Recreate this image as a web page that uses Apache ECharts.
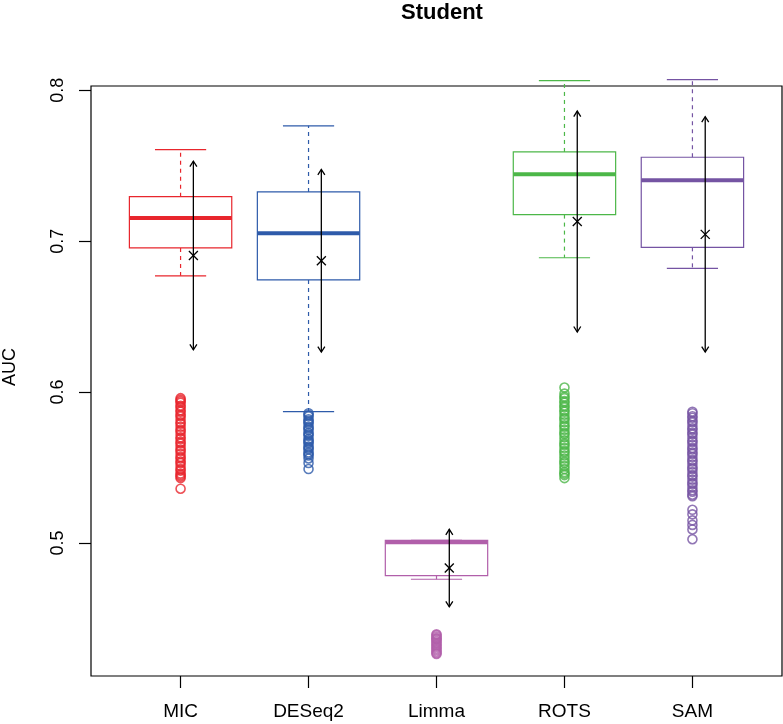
<!DOCTYPE html>
<html>
<head>
<meta charset="utf-8">
<title>Student AUC</title>
<script src="https://cdn.jsdelivr.net/npm/echarts@6/dist/echarts.min.js"></script>
<style>
    html, body { margin: 0; padding: 0; background: #fff; }
    #main { width: 783px; height: 724px; }
</style>
</head>
<body>
<div id="main"></div>
<script>
    var methods = ['MIC', 'DESeq2', 'Limma', 'ROTS', 'SAM'];
    var colors = ['#E8262D', '#2E5BAA', '#B15FAA', '#4CB748', '#7554A3'];

    // box statistics per method
    var whiskerLow = [0.677, 0.587, 0.476, 0.689, 0.682];
    var q1 = [0.6955, 0.6743, 0.4784, 0.7176, 0.6959];
    var median = [0.7154, 0.7052, 0.5005, 0.7443, 0.7403];
    var q3 = [0.7295, 0.7326, 0.5017, 0.7591, 0.7556];
    var whiskerHigh = [0.7607, 0.7764, 0.5017, 0.8064, 0.8070];

    // mean and standard deviation (the black arrows)
    var means = [0.6905, 0.6870, 0.4834, 0.7130, 0.7045];
    var sds = [0.0625, 0.0605, 0.0257, 0.0732, 0.0780];

    // outliers
    var outMIC = [0.596, 0.595, 0.594, 0.593, 0.591, 0.590, 0.588, 0.587, 0.585, 0.584, 0.582, 0.580, 0.579,
        0.577, 0.575, 0.574, 0.572, 0.570, 0.569, 0.567, 0.566, 0.564, 0.562, 0.561, 0.559, 0.557, 0.556,
        0.554, 0.553, 0.551, 0.549, 0.548, 0.546, 0.545, 0.544, 0.543, 0.536];
    var outDESeq2 = [0.586, 0.585, 0.584, 0.582, 0.581, 0.580, 0.579, 0.577, 0.576, 0.575, 0.573, 0.572,
        0.571, 0.569, 0.568, 0.567, 0.566, 0.564, 0.563, 0.562, 0.560, 0.559, 0.558, 0.556, 0.553, 0.549];
    var outLimma = [0.4395, 0.439, 0.438, 0.437, 0.4365, 0.436, 0.435, 0.434, 0.433, 0.432, 0.431, 0.430,
        0.429, 0.428, 0.427, 0.4265];
    var outROTS = [0.603, 0.599, 0.597, 0.596, 0.594, 0.593, 0.591, 0.590, 0.588, 0.587, 0.585, 0.583,
        0.582, 0.580, 0.578, 0.577, 0.575, 0.573, 0.572, 0.570, 0.568, 0.566, 0.565, 0.563, 0.561, 0.560,
        0.558, 0.556, 0.554, 0.553, 0.551, 0.549, 0.547, 0.546, 0.545, 0.543];
    var outSAM = [0.587, 0.586, 0.584, 0.583, 0.581, 0.580, 0.578, 0.576, 0.575, 0.573, 0.572, 0.570,
        0.568, 0.567, 0.565, 0.563, 0.562, 0.560, 0.559, 0.557, 0.555, 0.554, 0.552, 0.550, 0.549, 0.547,
        0.545, 0.544, 0.542, 0.540, 0.539, 0.537, 0.535, 0.534, 0.532, 0.531,
        0.522, 0.519, 0.515, 0.512, 0.509, 0.5025];
    var outliers = [outMIC, outDESeq2, outLimma, outROTS, outSAM];

    var yTicks = [0.5, 0.6, 0.7, 0.8];
    var xTicks = [1, 2, 3, 4, 5];

    var font = '"Liberation Sans", Arial, Helvetica, sans-serif';

    var boxData = methods.map(function (m, i) {
        return [i + 1, whiskerLow[i], q1[i], median[i], q3[i], whiskerHigh[i]];
    });
    var meanData = methods.map(function (m, i) {
        return [i + 1.1, means[i], sds[i]];
    });

    function renderBox(params, api) {
        var x = api.value(0);
        var c = colors[params.dataIndex];
        var lo = api.coord([x, api.value(1)]);
        var b1 = api.coord([x, api.value(2)]);
        var md = api.coord([x, api.value(3)]);
        var b3 = api.coord([x, api.value(4)]);
        var hi = api.coord([x, api.value(5)]);
        var bw = api.size([0.8, 0])[0];
        var cw = api.size([0.4, 0])[0];
        var thin = { stroke: c, lineWidth: 1.2, fill: null };
        var dash = { stroke: c, lineWidth: 1.2, lineDash: [4, 4] };
        return {
            type: 'group',
            children: [
                { type: 'line', shape: { x1: lo[0], y1: b1[1], x2: lo[0], y2: lo[1] }, style: dash },
                { type: 'line', shape: { x1: hi[0], y1: b3[1], x2: hi[0], y2: hi[1] }, style: dash },
                { type: 'line', shape: { x1: lo[0] - cw / 2, y1: lo[1], x2: lo[0] + cw / 2, y2: lo[1] }, style: thin },
                { type: 'line', shape: { x1: hi[0] - cw / 2, y1: hi[1], x2: hi[0] + cw / 2, y2: hi[1] }, style: thin },
                { type: 'rect', shape: { x: b1[0] - bw / 2, y: b3[1], width: bw, height: b1[1] - b3[1] }, style: thin },
                { type: 'line', shape: { x1: md[0] - bw / 2, y1: md[1], x2: md[0] + bw / 2, y2: md[1] }, style: { stroke: c, lineWidth: 4 } }
            ]
        };
    }

    function renderMean(params, api) {
        var x = api.value(0), m = api.value(1), s = api.value(2);
        var top = api.coord([x, m + s]);
        var bot = api.coord([x, m - s]);
        var mid = api.coord([x, m]);
        var st = { stroke: '#000', lineWidth: 1.3, fill: null };
        var hx = 3.5, hy = 5.5, k = 4.5;
        return {
            type: 'group',
            children: [
                { type: 'line', shape: { x1: top[0], y1: top[1], x2: bot[0], y2: bot[1] }, style: st },
                { type: 'polyline', shape: { points: [[top[0] - hx, top[1] + hy], [top[0], top[1]], [top[0] + hx, top[1] + hy]] }, style: st },
                { type: 'polyline', shape: { points: [[bot[0] - hx, bot[1] - hy], [bot[0], bot[1]], [bot[0] + hx, bot[1] - hy]] }, style: st },
                { type: 'line', shape: { x1: mid[0] - k, y1: mid[1] - k, x2: mid[0] + k, y2: mid[1] + k }, style: st },
                { type: 'line', shape: { x1: mid[0] - k, y1: mid[1] + k, x2: mid[0] + k, y2: mid[1] - k }, style: st }
            ]
        };
    }

    var series = [];
    outliers.forEach(function (vals, i) {
        series.push({
            type: 'scatter',
            symbol: 'circle',
            symbolSize: 9,
            itemStyle: { color: 'rgba(0,0,0,0)', borderColor: colors[i], borderWidth: 1.6 },
            data: vals.map(function (v) { return [i + 1, v]; }),
            z: 2
        });
    });
    series.push({ type: 'custom', renderItem: renderBox, data: boxData, z: 3 });
    series.push({ type: 'custom', renderItem: renderMean, data: meanData, z: 4 });

    var chart = echarts.init(document.getElementById('main'));
    chart.setOption({
        animation: false,
        backgroundColor: '#fff',
        title: {
            text: 'Student',
            left: 437,
            textAlign: 'center',
            top: -3,
            textStyle: { fontFamily: font, fontSize: 22, fontWeight: 'bold', color: '#000' }
        },
        grid: {
            left: 91, right: 1, top: 86, bottom: 48,
            outerBoundsMode: 'none',
            containLabel: false,
            show: true, borderColor: '#000', borderWidth: 1.2
        },
        xAxis: {
            type: 'value',
            min: 0.3, max: 5.7,
            axisLine: { show: false },
            splitLine: { show: false },
            axisTick: { show: true, length: 12, customValues: xTicks, lineStyle: { color: '#000', width: 1.2 } },
            axisLabel: {
                customValues: xTicks,
                margin: 26,
                fontFamily: font, fontSize: 19, color: '#000',
                formatter: function (v) { return methods[Math.round(v) - 1]; }
            }
        },
        yAxis: {
            type: 'value',
            min: 0.4119, max: 0.8028,
            name: 'AUC',
            nameLocation: 'middle',
            nameRotate: 90,
            nameGap: 72,
            nameTextStyle: { fontFamily: font, fontSize: 18, color: '#000', padding: [0, 0, 0, 28] },
            axisLine: { show: false },
            splitLine: { show: false },
            axisTick: { show: true, length: 12, customValues: yTicks, lineStyle: { color: '#000', width: 1.2 } },
            axisLabel: {
                customValues: yTicks,
                rotate: 90,
                margin: 24,
                fontFamily: font, fontSize: 18, color: '#000',
                formatter: function (v) { return v.toFixed(1); }
            }
        },
        series: series
    });
</script>
</body>
</html>
